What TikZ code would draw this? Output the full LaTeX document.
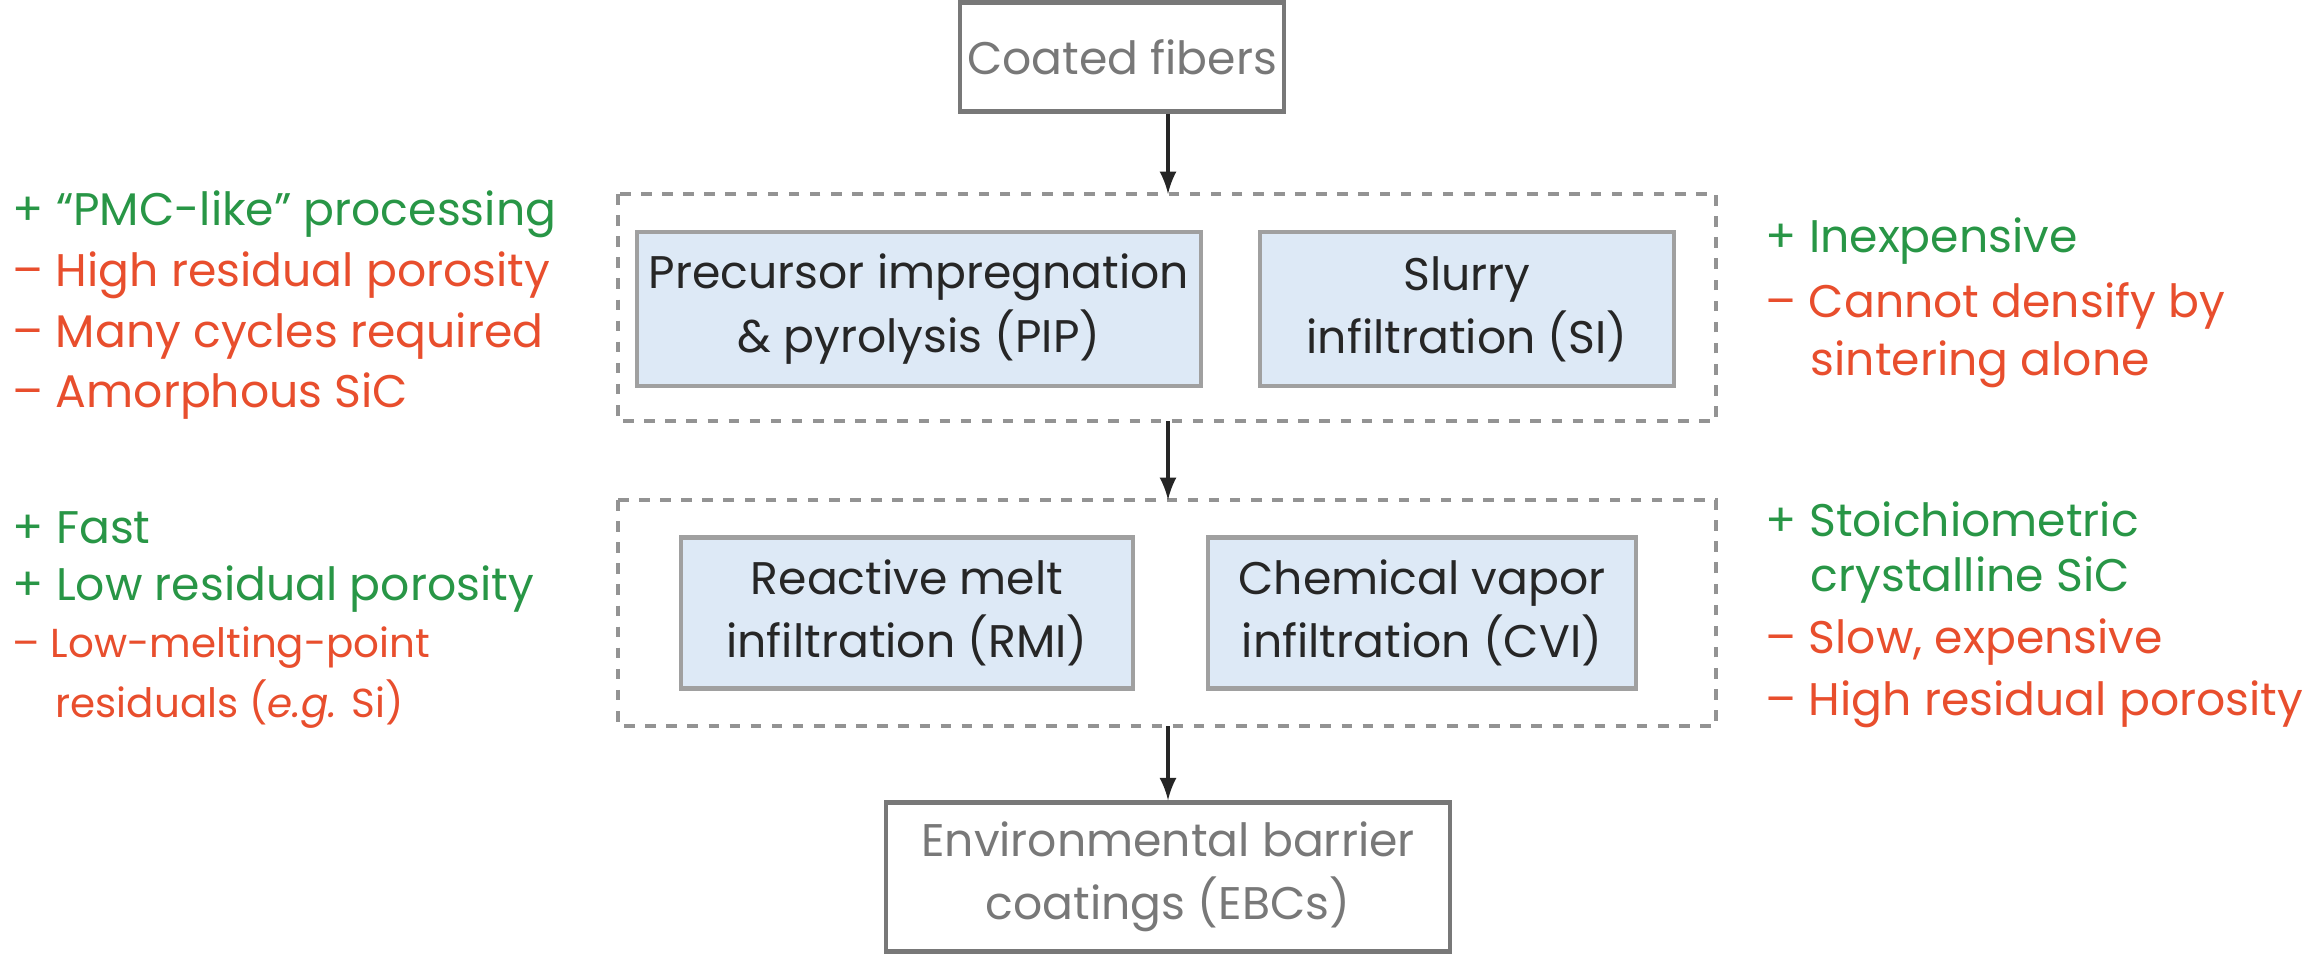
\documentclass[tikz,border=0pt]{standalone}
\usepackage{fontspec}
\setmainfont{Poppins}
\definecolor{gr}{RGB}{40,150,70}
\definecolor{rd}{RGB}{232,78,45}
\definecolor{bl}{RGB}{221,233,246}
\definecolor{gy}{RGB}{120,120,120}
\begin{document}
\begin{tikzpicture}[x=0.01cm,y=-0.01cm,
  proc/.style={draw=gy!70,line width=1.2pt,fill=bl,align=center,font=\fontsize{13}{18}\selectfont,text=black!85},
  term/.style={draw=gy,line width=1.2pt,fill=white,align=center,font=\fontsize{13}{18}\selectfont,text=gy,inner sep=2pt},
  grp/.style={draw=gy!80,dashed,line width=1.2pt},
  arr/.style={-latex,line width=1.2pt,black!85},
  gt/.style={anchor=west,text=gr,font=\fontsize{13}{17}\selectfont,inner sep=0},
  rt/.style={anchor=west,text=rd,font=\fontsize{13}{17}\selectfont,inner sep=0}]
\useasboundingbox (0,0) rectangle (2319,956);
\node[term,minimum width=2.93cm,minimum height=1.09cm] (cf) at (1122,57) {Coated fibers};
\draw[grp] (618,194) rectangle (1716,421);
\coordinate (g1t) at (1168,194); \coordinate (g1b) at (1168,421);
\node[proc,minimum width=5.04cm,minimum height=1.54cm] (pip) at (919,309) {Precursor impregnation\\\& pyrolysis (PIP)};
\node[proc,minimum width=4.14cm,minimum height=1.54cm] (si) at (1467,309) {Slurry\\infiltration (SI)};
\draw[grp] (618,500) rectangle (1716,726);
\coordinate (g2t) at (1168,500); \coordinate (g2b) at (1168,726);
\node[proc,minimum width=4.51cm,minimum height=1.51cm] (rmi) at (907,613) {Reactive melt\\infiltration (RMI)};
\node[proc,minimum width=4.28cm,minimum height=1.51cm] (cvi) at (1422,613) {Chemical vapor\\infiltration (CVI)};
\node[term,minimum width=5.63cm,minimum height=1.49cm] (ebc) at (1168,877) {Environmental barrier\\coatings (EBCs)};
\draw[arr] (cf.south -| g1t) -- (g1t);
\draw[arr] (g1b) -- (g2t);
\draw[arr] (g2b) -- (ebc.north -| g2b);
\node[gt] (l1) at (12,214) {+ “PMC-like” processing};
\node[rt] (l2) at (12,275) {– High residual porosity};
\node[rt] (l3) at (12,336) {– Many cycles required};
\node[rt] (l4) at (12,396) {– Amorphous SiC};
\node[gt] (l5) at (12,528) {+ Fast};
\node[gt] (l6) at (12,589) {+ Low residual porosity};
\node[rt,font=\fontsize{11.5}{15}\selectfont] (l7) at (12,648) {– Low-melting-point};
\node[rt,font=\fontsize{11.5}{15}\selectfont] (l8) at (55,704) {residuals (\textit{e.g.} Si)};
\node[gt] (r1) at (1765,241) {+ Inexpensive};
\node[rt] (r2) at (1765,306) {– Cannot densify by};
\node[rt] (r3) at (1810,364) {sintering alone};
\node[gt] (r4) at (1765,519) {+ Stoichiometric};
\node[gt] (r5) at (1810,580) {crystalline SiC};
\node[rt] (r6) at (1765,642) {– Slow, expensive};
\node[rt] (r7) at (1765,704) {– High residual porosity};
\end{tikzpicture}
\end{document}
